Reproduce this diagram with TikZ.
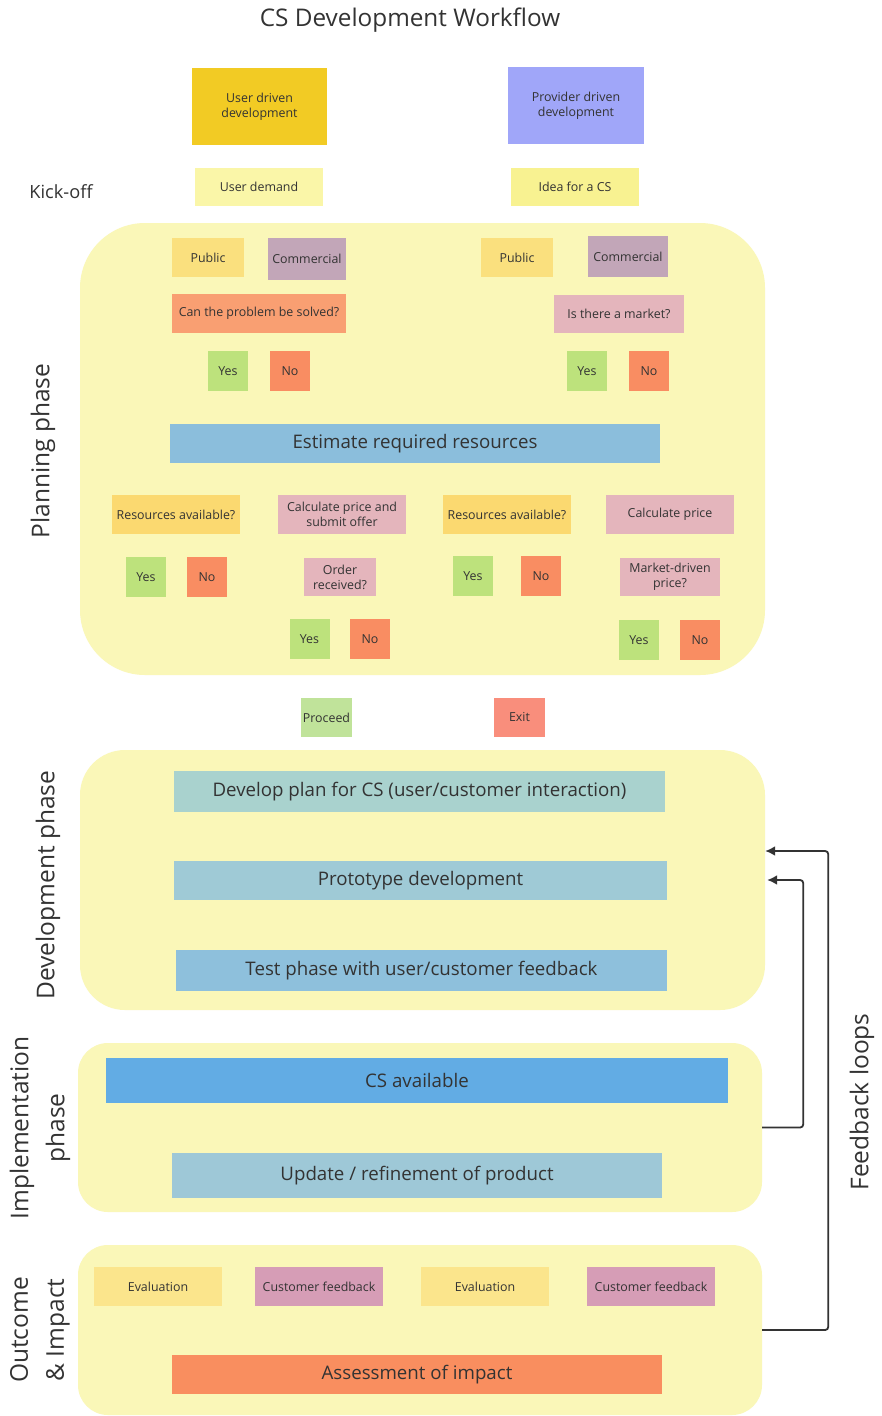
\documentclass[tikz,border=0pt]{standalone}
\usepackage{fontspec}
\setmainfont{Open Sans}
\usetikzlibrary{arrows.meta}
\definecolor{txt}{HTML}{333333}
\definecolor{phasebg}{HTML}{FAF7B8}
\definecolor{gold}{HTML}{F2CB24}
\definecolor{lavender}{HTML}{A0A6F9}
\definecolor{lightyel}{HTML}{FAF6A8}
\definecolor{ideayel}{HTML}{F8F291}
\definecolor{pubyel}{HTML}{FAE07E}
\definecolor{commauve}{HTML}{C2A6B8}
\definecolor{salmon}{HTML}{F99F72}
\definecolor{pinkq}{HTML}{E4B5BC}
\definecolor{yesgreen}{HTML}{BDE27C}
\definecolor{noorange}{HTML}{F98D62}
\definecolor{estblue}{HTML}{8BBEDC}
\definecolor{resyel}{HTML}{FBD970}
\definecolor{proceedgreen}{HTML}{C0E39A}
\definecolor{exitred}{HTML}{F98E7C}
\definecolor{planteal}{HTML}{A9D2CE}
\definecolor{protoblue}{HTML}{9FCAD6}
\definecolor{testblue}{HTML}{8EC0DC}
\definecolor{csblue}{HTML}{62ACE4}
\definecolor{updblue}{HTML}{9EC8D7}
\definecolor{evalyel}{HTML}{FBE58C}
\definecolor{cfpink}{HTML}{D69DB6}
\definecolor{assorange}{HTML}{F98E5F}
\definecolor{arrowgray}{HTML}{333333}
\tikzset{
  box/.style={inner sep=1pt, align=center, text=txt, font=\fontsize{12.4}{15}\selectfont},
  bar/.style={box, font=\fontsize{18.7}{22}\selectfont},
  phasebox/.style={fill=phasebg, inner sep=0pt},
  phaselabel/.style={text=txt, font=\fontsize{24.5}{36}\selectfont, align=center, rotate=90},
  fb/.style={draw=arrowgray, line width=1.8pt, rounded corners=3pt, -{Latex[length=10pt,width=10pt]}}
}
\begin{document}
\begin{tikzpicture}[x=1pt,y=-1pt]
\useasboundingbox (0,0) rectangle (881,1416);
\fill[white] (0,0) rectangle (881,1416);

% title
\node[text=txt, font=\fontsize{24.3}{28}\selectfont] (title) at (410,20) {CS Development Workflow};

% top boxes
\node[box, fill=gold, minimum width=135, minimum height=77] (ud) at (259.5,106.5) {User driven\\development};
\node[box, fill=lavender, minimum width=136, minimum height=77] (pd) at (576,105.5) {Provider driven\\development};
\node[text=txt, font=\fontsize{18.2}{21}\selectfont] (kick) at (61,192) {Kick-off};
\node[box, fill=lightyel, minimum width=128, minimum height=38] (udem) at (259,187) {User demand};
\node[box, fill=ideayel, minimum width=128, minimum height=38] (idea) at (575,187) {Idea for a CS};

% planning phase
\node[phasebox, rounded corners=65pt, minimum width=685, minimum height=452] (plan) at (422.5,449) {};
\node[phaselabel] (planlbl) at (43,451) {Planning phase};
\node[box, fill=pubyel, minimum width=72, minimum height=39] (pub1) at (208,257.5) {Public};
\node[box, fill=commauve, minimum width=78, minimum height=42] (com1) at (307,259) {Commercial};
\node[box, fill=pubyel, minimum width=72, minimum height=39] (pub2) at (517,257.5) {Public};
\node[box, fill=commauve, minimum width=80, minimum height=41] (com2) at (628,256.5) {Commercial};
\node[box, fill=salmon, minimum width=174, minimum height=39] (solve) at (259,313.5) {Can the problem be solved?};
\node[box, fill=pinkq, minimum width=130, minimum height=38] (market) at (619,314) {Is there a market?};
\node[box, fill=yesgreen, minimum width=40, minimum height=40] (y1) at (228,371) {Yes};
\node[box, fill=noorange, minimum width=40, minimum height=40] (n1) at (290,371) {No};
\node[box, fill=yesgreen, minimum width=40, minimum height=40] (y2) at (587,371) {Yes};
\node[box, fill=noorange, minimum width=40, minimum height=40] (n2) at (649,371) {No};
\node[bar, fill=estblue, minimum width=490, minimum height=39] (est) at (415,443.5) {Estimate required resources};
\node[box, fill=resyel, minimum width=128, minimum height=39] (ra1) at (176,514.5) {Resources available?};
\node[box, fill=pinkq, minimum width=128, minimum height=39] (calc1) at (342,514.5) {Calculate price and\\submit offer};
\node[box, fill=resyel, minimum width=128, minimum height=39] (ra2) at (507,514.5) {Resources available?};
\node[box, fill=pinkq, minimum width=128, minimum height=39] (calc2) at (670,514.5) {Calculate price};
\node[box, fill=yesgreen, minimum width=40, minimum height=40] (y3) at (146,577) {Yes};
\node[box, fill=noorange, minimum width=40, minimum height=40] (n3) at (207,577) {No};
\node[box, fill=pinkq, minimum width=72, minimum height=38] (order) at (340,577) {Order\\received?};
\node[box, fill=yesgreen, minimum width=40, minimum height=40] (y4) at (473,576) {Yes};
\node[box, fill=noorange, minimum width=40, minimum height=40] (n4) at (541,576) {No};
\node[box, fill=pinkq, minimum width=100, minimum height=38] (mdp) at (670,577) {Market-driven\\price?};
\node[box, fill=yesgreen, minimum width=40, minimum height=40] (y5) at (309.5,639) {Yes};
\node[box, fill=noorange, minimum width=40, minimum height=40] (n5) at (370,639) {No};
\node[box, fill=yesgreen, minimum width=40, minimum height=40] (y6) at (639,640) {Yes};
\node[box, fill=noorange, minimum width=40, minimum height=40] (n6) at (700,640) {No};

% proceed / exit
\node[box, fill=proceedgreen, minimum width=51, minimum height=39] (proceed) at (326.5,717.5) {Proceed};
\node[box, fill=exitred, minimum width=51, minimum height=39] (exit) at (519.5,717.5) {Exit};

% development phase
\node[phasebox, rounded corners=45pt, minimum width=685, minimum height=260] (dev) at (422.5,880) {};
\node[phaselabel] (devlbl) at (48,885) {Development phase};
\node[bar, fill=planteal, minimum width=491, minimum height=41] (plandev) at (419.5,791.5) {Develop plan for CS (user/customer interaction)};
\node[bar, fill=protoblue, minimum width=493, minimum height=39] (proto) at (420.5,880.5) {Prototype development};
\node[bar, fill=testblue, minimum width=491, minimum height=41] (test) at (421.5,970.5) {Test phase with user/customer feedback};

% implementation phase
\node[phasebox, rounded corners=30pt, minimum width=684, minimum height=169] (impl) at (420,1127.5) {};
\node[phaselabel] (impllbl) at (40,1128) {Implementation\\phase};
\node[bar, fill=csblue, minimum width=622, minimum height=45] (csa) at (417,1080.5) {CS available};
\node[bar, fill=updblue, minimum width=490, minimum height=45] (upd) at (417,1175.5) {Update / refinement of product};

% outcome & impact
\node[phasebox, rounded corners=30pt, minimum width=684, minimum height=170] (outc) at (420,1330) {};
\node[phaselabel] (outclbl) at (40,1330) {Outcome\\\& Impact};
\node[box, fill=evalyel, minimum width=128, minimum height=39] (ev1) at (158,1286.5) {Evaluation};
\node[box, fill=cfpink, minimum width=128, minimum height=39] (cf1) at (319,1286.5) {Customer feedback};
\node[box, fill=evalyel, minimum width=128, minimum height=39] (ev2) at (485,1286.5) {Evaluation};
\node[box, fill=cfpink, minimum width=128, minimum height=39] (cf2) at (651,1286.5) {Customer feedback};
\node[bar, fill=assorange, minimum width=490, minimum height=39] (ass) at (417,1374.5) {Assessment of impact};

% feedback loops
\draw[fb] (impl.east) -- ++(41,0) |- ([xshift=2pt]dev.east);
\draw[fb] (outc.east) -- ++(66,0) |- ([yshift=29pt]dev.east);
\node[phaselabel] (fblbl) at (862,1102) {Feedback loops};
\end{tikzpicture}
\end{document}
